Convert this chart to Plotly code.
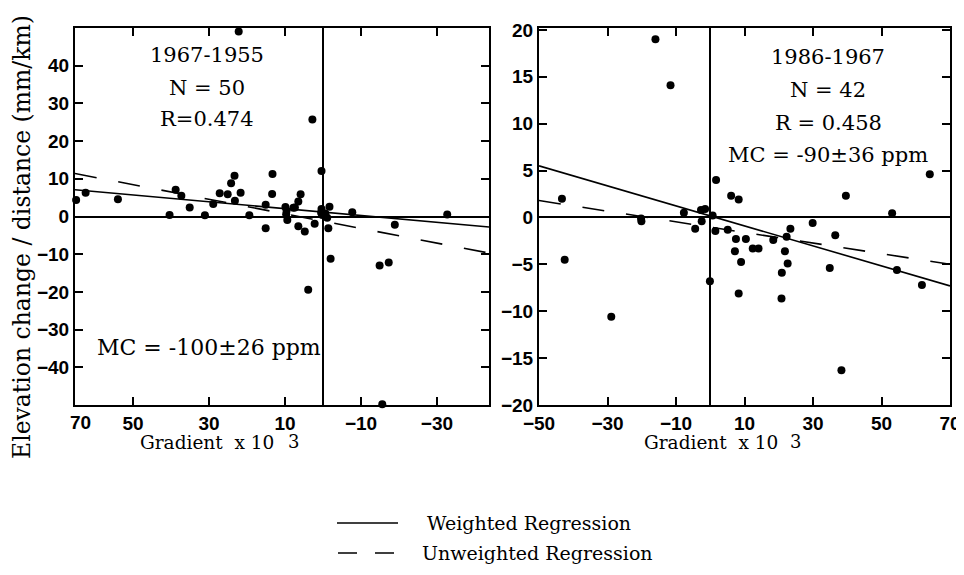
import plotly.graph_objects as go

# page shows the figure with an 8px body margin; size the figure to fit the window
OFF = 8
W, H = 964 - OFF, 575 - OFF

# ---------------- data ----------------
# Left panel: 1967-1955
left_x = [65.0, 62.5, 54.0, 40.4, 38.8, 37.3, 35.1, 31.1, 28.9, 27.2,
          25.1, 24.2, 23.3, 23.2, 21.7, 22.2, 19.4, 15.1, 13.3, 13.4,
          15.1, 9.9, 9.7, 9.4, 7.4, 6.5, 5.9, 6.5, 4.8, 2.2,
          3.9, 2.8, 0.4, 0.4, 0.2, -1.7, -1.1, -1.4, -2.0, -7.7,
          -18.9, -14.9, -17.3, -32.7, -43.9, -15.6, 9.6, 0.5, 7.8, -0.6]
left_y = [4.4, 6.3, 4.6, 0.4, 7.1, 5.5, 2.4, 0.3, 3.3, 6.2,
          5.9, 8.8, 10.8, 4.2, 6.3, 49.1, 0.3, 3.1, 11.3, 6.0,
          -3.1, 2.5, 0.6, -0.9, 2.4, 4.0, 5.9, -2.6, -4.0, -1.9,
          -19.4, 25.7, 12.1, 2.0, 0.4, 2.6, -0.3, -3.1, -11.2, 1.1,
          -2.2, -13.0, -12.2, 0.5, -4.8, -49.8, 1.5, 1.0, 2.3, 0.8]

# Right panel: 1986-1967
right_x = [-16.0, -11.6, -43.3, -42.5, -28.9, -20.2, -20.1, -7.7, -4.4, -2.7,
           -1.5, -2.5, -0.1, 0.7, 1.7, 1.5, 5.1, 6.1, 8.3, 7.5,
           7.2, 9.0, 8.3, 10.4, 12.4, 14.1, 18.4, 20.9, 20.8, 21.8,
           22.3, 22.6, 23.4, 29.9, 34.9, 36.5, 38.3, 39.6, 53.1, 54.5,
           61.8, 64.1]
right_y = [19.0, 14.1, 2.0, -4.5, -10.6, -0.1, -0.4, 0.5, -1.2, 0.8,
           0.9, -0.4, -6.8, 0.2, 4.0, -1.45, -1.3, 2.3, 1.9, -2.3,
           -3.6, -4.75, -8.1, -2.3, -3.3, -3.3, -2.4, -5.9, -8.65, -3.6,
           -2.05, -4.9, -1.2, -0.6, -5.4, -1.9, -16.3, 2.3, 0.45, -5.6,
           -7.2, 4.6]

# regression lines (end values)
left_line_x = [65.3, -43.7]
left_weighted_y = [7.1, -2.8]
left_unweighted_y = [11.4, -9.7]
right_line_x = [-50, 70]
right_weighted_y = [5.5, -7.3]
right_unweighted_y = [1.8, -5.0]

left_xticks = [50, 30, 10, -10, -30]
left_yticks = [40, 30, 20, 10, 0, -10, -20, -30, -40]
right_xticks = [-50, -30, -10, 10, 30, 50, 70]
right_yticks = [20, 15, 10, 5, 0, -5, -10, -15, -20]

# ---------------- helpers (window pixels -> paper fractions) ----------------
def px(x):
    return (x - OFF) / W

def py(y):
    return 1 - (y - OFF) / H

SERIF = "DejaVu Serif"
TICKFONT = dict(family="Liberation Sans", size=19, color="black", weight="bold")
DASH = "22px,22px"

fig = go.Figure()

marker = dict(color="black", size=8)
fig.add_trace(go.Scatter(x=left_x, y=left_y, mode="markers", marker=marker,
                         xaxis="x", yaxis="y", showlegend=False, cliponaxis=False))
fig.add_trace(go.Scatter(x=left_line_x, y=left_weighted_y, mode="lines",
                         line=dict(color="black", width=1.6), xaxis="x", yaxis="y",
                         showlegend=False))
fig.add_trace(go.Scatter(x=left_line_x, y=left_unweighted_y, mode="lines",
                         line=dict(color="black", width=1.6, dash=DASH), xaxis="x", yaxis="y",
                         showlegend=False))

fig.add_trace(go.Scatter(x=right_x, y=right_y, mode="markers", marker=marker,
                         xaxis="x2", yaxis="y2", showlegend=False, cliponaxis=False))
fig.add_trace(go.Scatter(x=right_line_x, y=right_weighted_y, mode="lines",
                         line=dict(color="black", width=1.6), xaxis="x2", yaxis="y2",
                         showlegend=False))
fig.add_trace(go.Scatter(x=right_line_x, y=right_unweighted_y, mode="lines",
                         line=dict(color="black", width=1.6, dash=DASH), xaxis="x2", yaxis="y2",
                         showlegend=False))

axis_common = dict(showline=True, linecolor="black", linewidth=2, mirror="allticks",
                   ticks="inside", ticklen=8, tickwidth=1.5, tickcolor="black",
                   showgrid=False, zeroline=True, zerolinecolor="black", zerolinewidth=1.5,
                   tickfont=TICKFONT, automargin=False)

yd = [py(405), py(28)]
fig.update_layout(
    width=W, height=H,
    margin=dict(l=0, r=0, t=0, b=0, autoexpand=False),
    paper_bgcolor="white", plot_bgcolor="white",
    xaxis=dict(domain=[px(75), px(489)], range=[65.3, -43.7], tickvals=left_xticks,
               anchor="y", **axis_common),
    yaxis=dict(domain=yd, range=[-50, 50], tickvals=left_yticks, anchor="x", **axis_common),
    xaxis2=dict(domain=[px(539), px(950)], range=[-50, 70], tickvals=right_xticks,
                anchor="y2", **axis_common),
    yaxis2=dict(domain=yd, range=[-20, 20.2], tickvals=right_yticks, anchor="x2", **axis_common),
)

ann = []
def text(t, x, y, size, xanchor="center", yanchor="middle", angle=0, font=SERIF):
    ann.append(dict(text=t, x=px(x), y=py(y), xref="paper", yref="paper", showarrow=False,
                    xanchor=xanchor, yanchor=yanchor, textangle=angle,
                    font=dict(family=font, size=size, color="black")))

# panel texts
text("1967-1955", 207, 55, 21)
text("N = 50", 207, 88, 21)
text("R=0.474", 207, 119, 21)
text("MC = -100±26 ppm", 95, 347, 22, xanchor="left")
text("1986-1967", 828, 57, 21)
text("N = 42", 828, 90, 21)
text("R = 0.458", 828, 123, 21)
text("MC = -90±36 ppm", 828, 155, 21)

# tick label at the left edge of the left panel
ann.append(dict(text="70", x=px(80), y=py(422), xref="paper", yref="paper", showarrow=False,
                xanchor="center", yanchor="middle", font=TICKFONT))

# axis titles
text("Elevation change / distance (mm/km)", 22, 237, 23.5, angle=-90)
text("Gradient  x 10", 138, 442, 18.5, xanchor="left")
text("3", 286, 441, 18, xanchor="left")
text("Gradient  x 10", 642, 442, 18.5, xanchor="left")
text("3", 788, 441, 18, xanchor="left")

# legend
text("Weighted Regression", 425, 523, 19, xanchor="left")
text("Unweighted Regression", 420, 553, 19, xanchor="left")

fig.update_layout(annotations=ann)
fig.add_shape(type="line", xref="paper", yref="paper", x0=px(337), x1=px(398), y0=py(523), y1=py(523),
              line=dict(color="black", width=1.5))
fig.add_shape(type="line", xref="paper", yref="paper", x0=px(338), x1=px(394), y0=py(553), y1=py(553),
              line=dict(color="black", width=1.5, dash="19px,18px"))

fig.write_html("out.html")
